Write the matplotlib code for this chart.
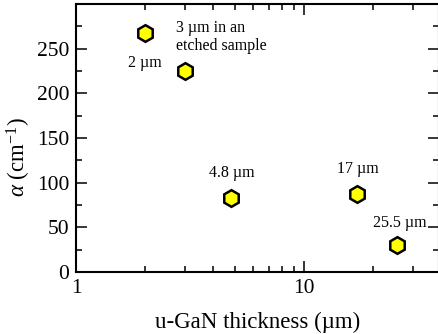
import matplotlib
matplotlib.use("Agg")
import matplotlib.pyplot as plt
from matplotlib.ticker import LogLocator, FixedLocator, FuncFormatter, MultipleLocator

plt.rcParams["font.family"] = ["Liberation Serif", "DejaVu Serif"]
plt.rcParams["mathtext.fontset"] = "custom"
plt.rcParams["mathtext.rm"] = "Liberation Serif"
plt.rcParams["mathtext.it"] = "Liberation Serif:italic"

# u-GaN thickness (µm) and absorption coefficient (cm^-1)
thickness = [2.0, 3.0, 4.8, 17.0, 25.5]
alpha = [268, 225, 83, 87, 30]
labels = ["2 µm", "3 µm in an\netched sample", "4.8 µm", "17 µm", "25.5 µm"]
# label offsets in pixels and horizontal alignment
offsets = [(0, -30), (-9, 34), (0, 25), (1, 25), (3, 22)]
aligns = ["center", "left", "center", "center", "center"]

fig = plt.figure(figsize=(4.38, 3.34), dpi=100)
ax = fig.add_axes([76 / 438, 62 / 334, 362.5 / 438, 268 / 334])

ax.plot(thickness, alpha, linestyle="none", marker="h", markersize=12,
        markerfacecolor="#ffff00", markeredgecolor="black", markeredgewidth=1.8,
        zorder=3, clip_on=False)

for x, y, lab, off, ha in zip(thickness, alpha, labels, offsets, aligns):
    ax.annotate(lab, (x, y), xytext=off, textcoords="offset pixels",
                ha=ha, va="center", fontsize=11.5, linespacing=1.25)

ax.set_xscale("log")
ax.set_xlim(1, 38.9)
ax.set_ylim(0, 300)

ax.xaxis.set_major_locator(FixedLocator([1, 10]))
ax.xaxis.set_minor_locator(LogLocator(base=10, subs=range(2, 10)))
ax.xaxis.set_major_formatter(FuncFormatter(lambda v, p: f"{v:g}"))
ax.xaxis.set_minor_formatter(FuncFormatter(lambda v, p: ""))
ax.yaxis.set_major_locator(FixedLocator([0, 50, 100, 150, 200, 250]))
ax.yaxis.set_minor_locator(MultipleLocator(25))

ax.tick_params(which="both", direction="in", top=True, right=True,
               labelsize=15.5, width=1.1)
ax.tick_params(which="major", length=8, pad=5)
ax.tick_params(which="minor", length=4)
for s in ax.spines.values():
    s.set_linewidth(1.5)

ax.set_xlabel("u-GaN thickness (µm)", fontsize=16.5, labelpad=10)
ax.set_ylabel(r"$\alpha$ (cm$^{\mathrm{-1}}$)", fontsize=16.5)
ax.yaxis.set_label_coords(-0.118, 0.43)

fig.savefig("out.png", dpi=100)
